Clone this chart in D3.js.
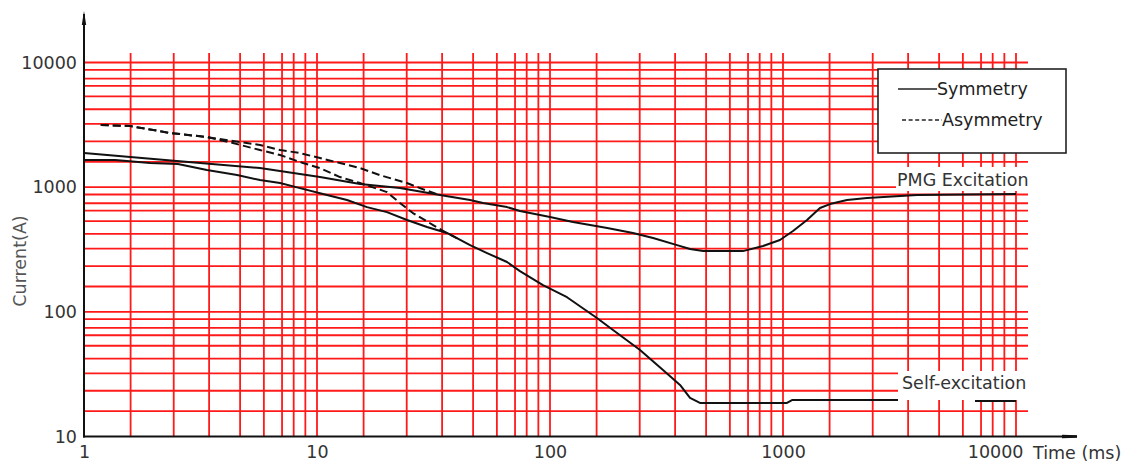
<!DOCTYPE html>
<html>
<head>
<meta charset="utf-8">
<script src="https://cdn.jsdelivr.net/npm/d3@7"></script>
<style>
  html, body { margin: 0; padding: 0; background: #fff; }
  svg { display: block; font-family: "DejaVu Sans", sans-serif; }
</style>
</head>
<body>
<svg id="chart" width="1133" height="464"></svg>
<script>
// Short-circuit current decay, time in ms, current in A

// PMG excitation, symmetrical fault (solid)
const pmgSymTime    = [1, 1.58, 3.15, 5.69, 10.3, 15.3, 22.7, 33.7, 45.4, 51.6, 65.4, 74.3, 100, 125.5, 176, 227, 277, 351, 399, 454, 673, 821, 970, 1104, 1268, 1441, 1591, 1882, 2294, 3760, 10000];
const pmgSymCurrent = [1877, 1743, 1561, 1423, 1205, 1059, 983, 864, 788, 746, 692, 643, 576, 525, 470, 429, 391, 343, 319, 307, 307, 337, 377, 445, 545, 680, 732, 788, 818, 864, 880];

// PMG excitation, asymmetrical fault (dashed)
const pmgAsymTime    = [1.18, 1.58, 2.34, 3.37, 4.36, 5.69, 6.94, 8.45, 10.3, 12.55, 15.3, 18.6, 24.3, 29.1, 33.7];
const pmgAsymCurrent = [3148, 3093, 2719, 2524, 2344, 2178, 1986, 1877, 1712, 1561, 1423, 1250, 1079, 948, 864];

// Self-excitation, symmetrical fault (solid); null leaves a break under the label
const selfSymTime    = [1, 1.36, 1.92, 2.53, 3.37, 4.54, 5.69, 6.94, 8.45, 11.04, 13.45, 16.39, 19.97, 24.34, 29.66, 36.14, 45.4, 53.7, 65.4, 74.3, 93.3, 118.3, 159, 186.4, 243.4, 305.5, 361.4, 399, 440, 1040, 1093, 3116, 3300, 6668, 10000];
const selfSymCurrent = [1650, 1650, 1561, 1532, 1371, 1250, 1140, 1079, 983, 864, 788, 692, 631, 545, 479, 429, 343, 296, 251, 212, 164, 131, 89.2, 71.5, 49.4, 34.1, 25.9, 20.4, 18.6, 18.6, 19.6, 19.6, null, 19.3, 19.3];

// Self-excitation, asymmetrical fault (dashed)
const selfAsymTime    = [1.18, 1.58, 2.34, 3.37, 4.36, 5.69, 6.94, 8.71, 10.3, 12.55, 15.3, 19.97, 22.7, 25.8, 31.5, 36.1, 41.1];
const selfAsymCurrent = [3148, 3093, 2719, 2524, 2259, 1986, 1810, 1561, 1423, 1205, 1079, 913, 746, 620, 497, 429, 377];

// Axis ticks
const xTickValues = [1, 10, 100, 1000, 10000];
const xTickLabels = ["1", "10", "100", "1000", "10000"];
const yTickValues = [10, 100, 1000, 10000];
const yTickLabels = ["10", "100", "1000", "10000"];

// Grid: decade starts and the in-decade multipliers of the printed log paper
const xDecades  = [1, 10, 100, 1000];
const yDecades  = [10, 100, 1000];
const xGridSteps = [1.585, 2.427, 3.443, 4.677, 5.916, 7.079, 7.943, 8.913, 10];
const yGridSteps = [1.596, 2.328, 3.214, 4.217, 5.346, 6.486, 7.43, 8.73, 10];

// Legend and curve labels
const legendItems = [
  { label: "Symmetry",  dashed: false },
  { label: "Asymmetry", dashed: true }
];
const curveLabels = ["PMG Excitation", "Self-excitation"];

const svg = d3.select("#chart");

const x = d3.scaleLog().domain([1, 10000]).range([84, 1016]);
const y = d3.scaleLog().domain([10, 10000]).range([436.5, 62.5]);

const gridColor = "#ff1a1a";
const textColor = "#333";

// ---- grid ----
const xGrid = xDecades.flatMap(d => xGridSteps.map(k => d * k));
const yGrid = yDecades.flatMap(d => yGridSteps.map(k => d * k));

const grid = svg.append("g").attr("stroke", gridColor).attr("stroke-width", 1.8);
grid.selectAll("line.v").data(xGrid).join("line")
  .attr("class", "v")
  .attr("x1", d => x(d)).attr("x2", d => x(d))
  .attr("y1", 53).attr("y2", y(10));
grid.selectAll("line.h").data(yGrid).join("line")
  .attr("class", "h")
  .attr("x1", x(1)).attr("x2", 1028)
  .attr("y1", d => y(d)).attr("y2", d => y(d));

// ---- curve label backgrounds and text ----
const labelBoxes = [
  { text: curveLabels[0], bx: 896, by: 167, bw: 136, bh: 24, tx: 897, ty: 180 },
  { text: curveLabels[1], bx: 898, by: 371, bw: 134, bh: 29, tx: 902, ty: 383 }
];
const lab = svg.append("g");
lab.selectAll("rect").data(labelBoxes).join("rect")
  .attr("x", d => d.bx).attr("y", d => d.by)
  .attr("width", d => d.bw).attr("height", d => d.bh)
  .attr("fill", "#fff");
lab.selectAll("text").data(labelBoxes).join("text")
  .attr("x", d => d.tx).attr("y", d => d.ty)
  .attr("dominant-baseline", "central")
  .attr("font-size", 17.5).attr("fill", textColor)
  .text(d => d.text);

// ---- curves ----
const zip = (ts, is) => ts.map((t, i) => ({ t, i: is[i] }));
const line = d3.line()
  .defined(d => d.i != null)
  .x(d => x(d.t)).y(d => y(d.i));

const series = [
  { data: zip(pmgSymTime, pmgSymCurrent), dashed: false },
  { data: zip(selfSymTime, selfSymCurrent), dashed: false },
  { data: zip(pmgAsymTime, pmgAsymCurrent), dashed: true },
  { data: zip(selfAsymTime, selfAsymCurrent), dashed: true }
];
svg.append("g").selectAll("path").data(series).join("path")
  .attr("d", d => line(d.data))
  .attr("fill", "none")
  .attr("stroke", "#111")
  .attr("stroke-width", 2)
  .attr("stroke-linejoin", "round")
  .attr("stroke-dasharray", d => d.dashed ? "8,4" : null);

// ---- legend ----
const legend = svg.append("g");
legend.append("rect")
  .attr("x", 878).attr("y", 69).attr("width", 188).attr("height", 84)
  .attr("fill", "#fff").attr("stroke", "#222").attr("stroke-width", 1.6);
const li = legend.selectAll("g.item").data(legendItems).join("g")
  .attr("class", "item")
  .attr("transform", (d, i) => `translate(0,${89 + i * 31})`);
li.append("line")
  .attr("x1", (d, i) => 898 + i * 4).attr("x2", (d, i) => 937 + i * 5)
  .attr("y1", 0).attr("y2", 0)
  .attr("stroke", "#222").attr("stroke-width", 1.5)
  .attr("stroke-dasharray", d => d.dashed ? "4,2.6" : null);
li.append("text")
  .attr("x", (d, i) => 937 + i * 5).attr("y", 0)
  .attr("dominant-baseline", "central")
  .attr("font-size", 17.5).attr("fill", "#222")
  .text(d => d.label);

// ---- axes ----
const xAxis = d3.axisBottom(x)
  .tickValues(xTickValues)
  .tickFormat((d, i) => xTickLabels[i])
  .tickSize(0).tickPadding(9.5);
const gx = svg.append("g").attr("transform", `translate(0,${y(10)})`).call(xAxis);
gx.select(".domain").remove();
gx.selectAll("text")
  .attr("font-family", "DejaVu Sans, sans-serif")
  .attr("font-size", 17.5).attr("fill", textColor);
gx.selectAll(".tick").filter(d => d === 10000).select("text")
  .attr("text-anchor", "end").attr("x", 7);

const yAxis = d3.axisLeft(y)
  .tickValues(yTickValues)
  .tickFormat((d, i) => yTickLabels[i])
  .tickSize(0).tickPadding(7);
const gy = svg.append("g").attr("transform", `translate(${x(1)},0)`).call(yAxis);
gy.select(".domain").remove();
gy.selectAll("text")
  .attr("font-family", "DejaVu Sans, sans-serif")
  .attr("font-size", 17.5).attr("fill", textColor);

// axis lines with small arrow heads
const axes = svg.append("g").attr("stroke", "#111").attr("stroke-width", 2);
axes.append("line").attr("x1", x(1)).attr("x2", x(1)).attr("y1", 14).attr("y2", y(10) + 1);
axes.append("line").attr("x1", x(1) - 1).attr("x2", 1077).attr("y1", y(10)).attr("y2", y(10));
svg.append("path")
  .attr("d", `M${x(1)},11 L${x(1) - 2.2},25 L${x(1) + 2.2},25 Z`)
  .attr("fill", "#111");
svg.append("path")
  .attr("d", `M1062,${y(10) - 1.8} L1077,${y(10) - 1.2} L1077,${y(10) + 1.2} L1062,${y(10) + 1.8} Z`)
  .attr("fill", "#111");

// axis titles
svg.append("text")
  .attr("x", 1033).attr("y", 453)
  .attr("dominant-baseline", "central")
  .attr("font-size", 17.5).attr("fill", textColor)
  .text("Time (ms)");
svg.append("text")
  .attr("transform", "translate(20,261) rotate(-90)")
  .attr("text-anchor", "middle")
  .attr("dominant-baseline", "central")
  .attr("font-size", 17.5).attr("fill", "#555")
  .text("Current(A)");
</script>
</body>
</html>
